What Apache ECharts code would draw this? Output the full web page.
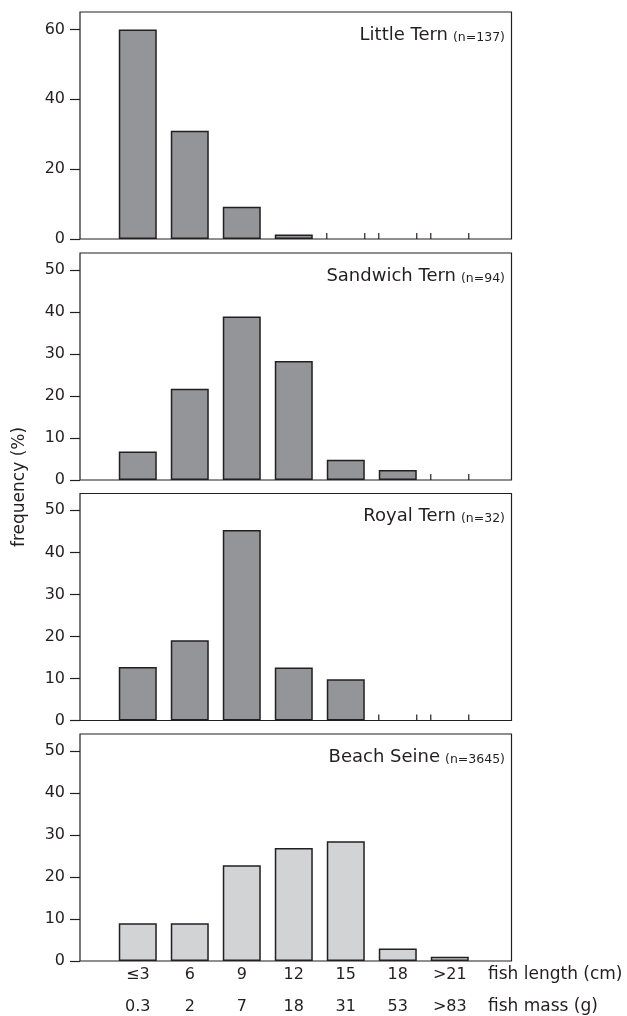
<!DOCTYPE html>
<html>
<head>
<meta charset="utf-8">
<script src="https://cdn.jsdelivr.net/npm/echarts@6/dist/echarts.min.js"></script>
<style>
html,body{margin:0;padding:0;background:#fff;}
#c{width:627px;height:1016px;}
</style>
</head>
<body>
<div id="c"></div>
<script>
// ---- data ----
var lengthLabels = ['\u22643', '6', '9', '12', '15', '18', '>21'];
var massLabels = ['0.3', '2', '7', '18', '31', '53', '>83'];
var panelNames = ['Little Tern', 'Sandwich Tern', 'Royal Tern', 'Beach Seine'];
var panelN = ['(n=137)', '(n=94)', '(n=32)', '(n=3645)'];
var littleTern = [60, 31, 9.2, 1.3, 0, 0, 0];
var sandwichTern = [6.8, 21.7, 38.9, 28.3, 4.8, 2.4, 0];
var royalTern = [12.7, 19.1, 45.3, 12.6, 9.8, 0, 0];
var beachSeine = [9, 9, 22.8, 26.9, 28.5, 3, 1];
var yMax = [65, 54, 54, 54];
var yTicks1 = [0, 20, 40, 60];
var yTicks = [0, 10, 20, 30, 40, 50];

// ---- style ----
var INK = '#231f20';
var DARK = '#939598';
var LIGHT = '#d1d3d4';
var FONT = 'DejaVu Sans';
var BAR_W = 38;
var gridTops = [12, 253, 493.5, 734];
var GRID_H = 227;
var series = [littleTern, sandwichTern, royalTern, beachSeine];
var fills = [DARK, DARK, DARK, LIGHT];
var catIdx = lengthLabels.map(function (_, i) { return i; });

var chart = echarts.init(document.getElementById('c'), null, {renderer: 'canvas'});

var grids = [], xAxes = [], yAxes = [], ser = [], titles = [];
for (var g = 0; g < 4; g++) {
  grids.push({left: 80, right: 115.5, top: gridTops[g], height: GRID_H,
    show: true, borderColor: INK, borderWidth: 1.2, backgroundColor: 'transparent', containLabel: false});
  var isLast = g === 3;
  xAxes.push({
    type: 'value', gridIndex: g, min: -1.111, max: 7.187, position: 'bottom',
    axisLine: {show: false, onZero: false}, axisTick: {show: false}, splitLine: {show: false},
    axisLabel: {show: isLast, customValues: catIdx, margin: 6, color: INK, fontFamily: FONT, fontSize: 16,
      formatter: function (v) { return lengthLabels[Math.round(v)]; }}
  });
  var ticks = g === 0 ? yTicks1 : yTicks;
  yAxes.push({
    type: 'value', gridIndex: g, min: 0, max: yMax[g], position: 'left',
    axisLine: {show: false, onZero: false}, splitLine: {show: false},
    axisTick: {show: true, customValues: ticks, length: 10, lineStyle: {color: INK, width: 1.2}},
    axisLabel: {customValues: ticks, margin: 15, color: INK, fontFamily: FONT, fontSize: 16}
  });
  (function (vals) {
    ser.push({
      type: 'bar', xAxisIndex: g, yAxisIndex: g, barWidth: BAR_W, z: 3,
      data: vals.map(function (v, i) { return v > 0 ? [i, v] : [i, null]; }),
      itemStyle: {color: fills[g], borderColor: INK, borderWidth: 1.5},
      emphasis: {disabled: true}, animation: false
    });
    ser.push({
      type: 'custom', xAxisIndex: g, yAxisIndex: g, z: 2, animation: false, silent: true,
      data: vals.map(function (v, i) { return [i, v]; }).filter(function (d) { return !(d[1] > 0); }),
      renderItem: function (params, api) {
        var p = api.coord([api.value(0), 0]);
        var h = BAR_W / 2;
        var st = {stroke: INK, lineWidth: 1.2};
        return {type: 'group', children: [
          {type: 'line', shape: {x1: p[0] - h, y1: p[1], x2: p[0] - h, y2: p[1] - 6}, style: st},
          {type: 'line', shape: {x1: p[0] + h, y1: p[1], x2: p[0] + h, y2: p[1] - 6}, style: st}
        ]};
      }
    });
  })(series[g]);
  titles.push({
    text: '{a|' + panelNames[g] + '} {b|' + panelN[g] + '}',
    right: 122, top: gridTops[g] + 10, padding: 0,
    textStyle: {fontWeight: 'normal', rich: {
      a: {fontFamily: FONT, fontSize: 18, fontWeight: 'normal', color: INK, verticalAlign: 'bottom', lineHeight: 22},
      b: {fontFamily: FONT, fontSize: 12.5, fontWeight: 'normal', color: INK, verticalAlign: 'bottom', lineHeight: 22}
    }}
  });
}
// second label row (fish mass) on the bottom panel
xAxes.push({
  type: 'value', gridIndex: 3, min: -1.111, max: 7.187, position: 'bottom', offset: 0,
  axisLine: {show: false, onZero: false}, axisTick: {show: false}, splitLine: {show: false},
  axisLabel: {customValues: catIdx, margin: 38, color: INK, fontFamily: FONT, fontSize: 16,
    formatter: function (v) { return massLabels[Math.round(v)]; }}
});

chart.setOption({
  animation: false,
  backgroundColor: '#fff',
  title: titles,
  grid: grids,
  xAxis: xAxes,
  yAxis: yAxes,
  series: ser,
  graphic: [
    {type: 'text', x: 20, y: 487, rotation: Math.PI / 2,
      style: {text: 'frequency (%)', fontFamily: FONT, fontSize: 17, fill: INK, textAlign: 'center', textVerticalAlign: 'middle'}},
    {type: 'text', x: 488, y: 975,
      style: {text: 'fish length (cm)', fontFamily: FONT, fontSize: 17, fill: INK, textAlign: 'left', textVerticalAlign: 'middle'}},
    {type: 'text', x: 488, y: 1007,
      style: {text: 'fish mass (g)', fontFamily: FONT, fontSize: 17, fill: INK, textAlign: 'left', textVerticalAlign: 'middle'}}
  ]
});
</script>
</body>
</html>
